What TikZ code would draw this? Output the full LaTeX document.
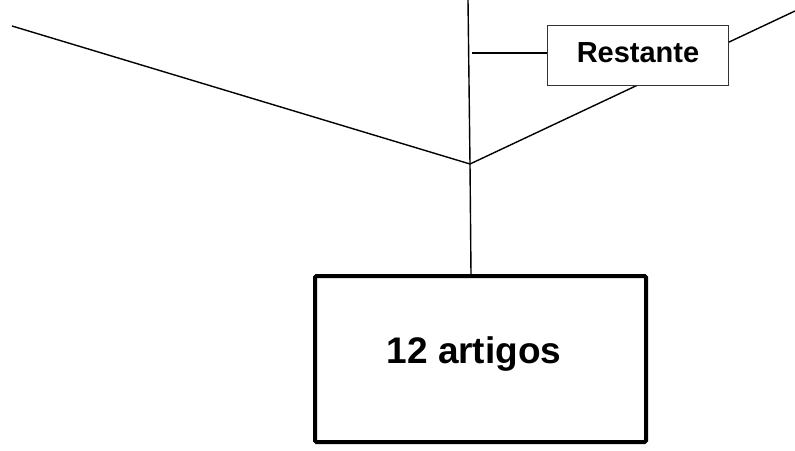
\documentclass[tikz,border=0pt]{standalone}
\usepackage{fontspec}
\setmainfont{Liberation Sans}
\begin{document}
\begin{tikzpicture}[x=1pt,y=-1pt,
  thinline/.style={line width=1.4pt,black},
  smallbox/.style={draw=black!80,line width=1pt,fill=white,minimum width=181pt,minimum height=60pt,inner sep=0pt},
  bigbox/.style={draw=black,line width=4pt,rounded corners=1.5pt,fill=white,minimum width=331pt,minimum height=166pt,inner sep=0pt},
  lbl/.style={font=\bfseries,anchor=base,inner sep=0pt}]
  \useasboundingbox (0,0) rectangle (795,450);
  % junction and free ends
  \coordinate (top) at (468,0);
  \coordinate (j) at (470,164);
  \coordinate (leftend) at (12,26);
  \coordinate (rightend) at (795,11);
  \coordinate (stub) at (472,53);
  \coordinate (foot) at (471,274);
  % lines behind the boxes
  \draw[thinline] (leftend) -- (j);
  \draw[thinline] (j) -- (rightend);
  \draw[thinline] (top) -- (j) -- (foot);
  % boxes
  \node[smallbox] (restante) at (638,55) {};
  \node[lbl,font=\fontsize{29}{30}\selectfont\bfseries] (restantetxt) at (638,62.3) {Restante};
  \node[bigbox] (artigos) at (480.5,359) {};
  \node[lbl,font=\fontsize{37}{38}\selectfont\bfseries] (artigostxt) at (474,363) {12 artigos};
  \draw[thinline] (stub) -- (stub -| restante.west);
\end{tikzpicture}
\end{document}
